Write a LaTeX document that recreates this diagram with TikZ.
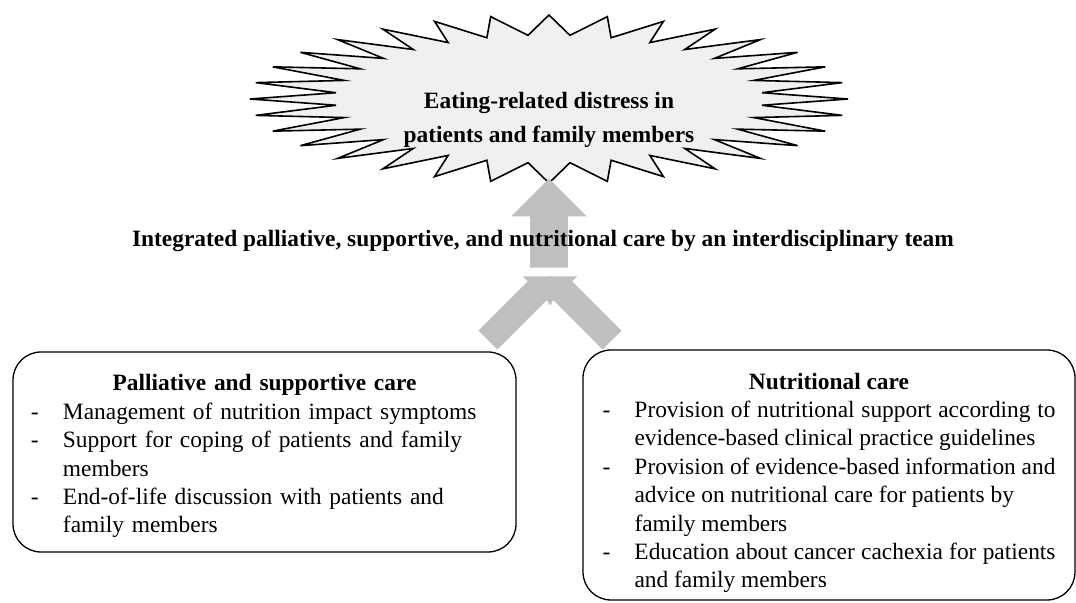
\documentclass[tikz,border=0pt]{standalone}
\usepackage{fontspec}
\setmainfont{Liberation Serif}
\usetikzlibrary{shapes.arrows}

% dash item with hanging indent
\newcommand{\dashitem}{\par\hangindent=16pt\hangafter=1\noindent\makebox[16pt][l]{-}}

\begin{document}
\begin{tikzpicture}[x=0.5pt,y=-0.5pt,
    body/.style={font=\fontsize{11.7}{14.2}\selectfont},
    head/.style={font=\fontsize{11.7}{14.2}\selectfont\bfseries},
    blockarrow/.style={single arrow, fill=black!25, draw=none, inner xsep=0pt, single arrow tip angle=90},
    carebox/.style={draw, rounded corners=14pt, line width=0.65pt}]
  \useasboundingbox (0,0) rectangle (1076,603);

  % Starburst
  \filldraw[fill=black!6, line width=0.8pt] (848,99)
    \foreach \k in {0,...,31} {
      -- ({549+214*cos(\k*11.25+5.625)},{99+64*sin(\k*11.25+5.625)})
      -- ({549+299*cos((\k+1)*11.25)},{99+84*sin((\k+1)*11.25)})
    } -- cycle;
  \node[font=\fontsize{11.7}{17}\selectfont\bfseries, align=center] (distress) at (549,120)
    {Eating-related distress in\\patients and family members};

  % Arrows
  \node[blockarrow, minimum height=44.5pt, inner ysep=9.25pt,
        single arrow head extend=9.5pt, rotate=90] (up) at (549,232.5) {};
  \node[blockarrow, minimum height=45pt, inner ysep=6.5pt,
        single arrow head extend=3.5pt, rotate=45] (palarrow) at (515,313) {};
  \node[blockarrow, minimum height=45pt, inner ysep=6.5pt,
        single arrow head extend=3.5pt, rotate=135] (nutarrow) at (585,313) {};

  % Team label
  \node[head] (team) at (543,241)
    {Integrated palliative, supportive, and nutritional care by an interdisciplinary team};

  % Palliative box
  \node[carebox, body, text width=233.5pt, align=left, inner xsep=9pt,
        minimum height=100pt] (palbox) at (264.5,452) {%
    {\centering\bfseries\rule{0pt}{12.5pt}Palliative and supportive care\par}
    \dashitem Management of nutrition impact symptoms
    \dashitem Support for coping of patients and family\newline members
    \dashitem End-of-life discussion with patients and\newline family members\par};

  % Nutrition box
  \node[carebox, body, text width=226.5pt, align=justify, inner xsep=9.75pt,
        minimum height=125pt] (nutbox) at (829,475) {%
    {\centering\bfseries\rule{0pt}{16pt}Nutritional care\par}
    \dashitem Provision of nutritional support according to\linebreak evidence-based clinical practice guidelines
    \dashitem Provision of evidence-based information and\linebreak advice on nutritional care for patients by\newline family members
    \dashitem Education about cancer cachexia for patients\linebreak and family members\par};
\end{tikzpicture}
\end{document}
